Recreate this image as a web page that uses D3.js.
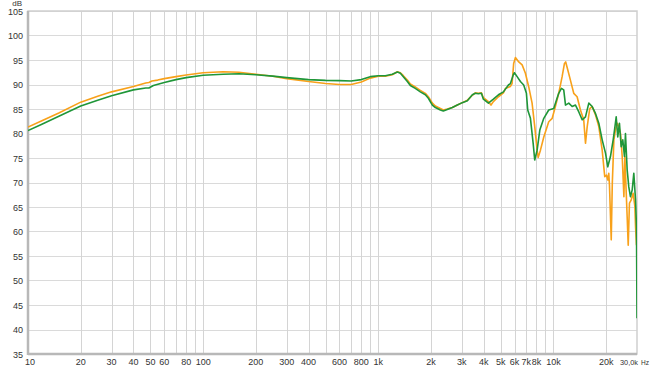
<!DOCTYPE html>
<html>
<head>
<meta charset="utf-8">
<script src="https://cdn.jsdelivr.net/npm/d3@7"></script>
<style>
  html, body { margin: 0; padding: 0; background: #fff; }
  svg { display: block; }
  text { font-family: "Liberation Sans", Arial, sans-serif; font-size: 9px; fill: #333; }
</style>
</head>
<body>
<svg id="chart" width="650" height="368"></svg>
<script>
// ---- data ----
const yTicks = [35, 40, 45, 50, 55, 60, 65, 70, 75, 80, 85, 90, 95, 100, 105];
const xTickValues = [10, 20, 30, 40, 50, 60, 80, 100, 200, 300, 400, 600, 800, 1000, 2000, 3000, 4000, 5000, 6000, 7000, 8000, 10000, 20000];
const xTickLabels = ["10", "20", "30", "40", "50", "60", "80", "100", "200", "300", "400", "600", "800", "1k", "2k", "3k", "4k", "5k", "6k", "7k", "8k", "10k", "20k"];
const xEndLabel = "30,0k";
const xUnit = "Hz";
const yUnit = "dB";
const xGridValues = [20, 30, 40, 50, 60, 70, 80, 90, 100, 200, 300, 400, 500, 600, 700, 800, 900, 1000,
  2000, 3000, 4000, 5000, 6000, 7000, 8000, 9000, 10000, 20000];

const freqOrange = [10, 12, 15, 20, 25, 30, 40, 47, 49, 51, 55, 60, 70, 80, 100, 130, 160, 200, 250, 300, 400, 500, 600, 700, 800, 900,
  1000, 1096, 1202, 1285, 1337, 1390, 1465, 1524, 1626, 1738, 1857, 1931, 2036, 2118, 2262, 2351, 2477, 2647, 2827, 3019, 3226,
  3444, 3581, 3724, 3880, 3981, 4254, 4400, 4540, 4853, 5180, 5321, 5680, 5805, 5929, 6067, 6339, 6627, 6918, 7228, 7553, 7820,
  8070, 8180, 8430, 8810, 9400, 9840, 10260, 10720, 11210, 11560, 11750, 12070, 12500, 13060, 13650, 14260, 14890, 15240, 15590,
  16120, 16640, 17380, 18160, 18980, 19630, 20090, 20430, 20700, 20890, 21380, 21680, 22140, 22610, 23120, 23620, 24150, 24700,
  25250, 25580, 26000, 26360, 26730, 27170, 27770, 28510, 29170, 29430, 29800];
const dbOrange = [81.3, 82.6, 84.2, 86.4, 87.6, 88.5, 89.6, 90.3, 90.4, 90.7, 90.9, 91.2, 91.6, 91.95, 92.4, 92.6, 92.5, 92.1, 91.7, 91.2, 90.6, 90.2, 90.0, 90.0, 90.5, 91.3,
  91.7, 91.7, 92.0, 92.6, 92.4, 91.8, 90.9, 90.1, 89.5, 88.8, 88.2, 87.5, 86.2, 85.6, 85.1, 84.8, 85.0, 85.3, 85.8, 86.3, 86.8,
  87.8, 88.3, 88.2, 88.3, 87.3, 86.5, 85.8, 86.5, 87.5, 88.3, 89.2, 89.6, 90.2, 94.3, 95.5, 94.6, 94.0, 92.3, 89.5, 86.2, 81.4,
  76.6, 75.1, 76.6, 79.3, 82.4, 83.1, 85.5, 88.2, 91.6, 94.3, 94.6, 93.0, 90.9, 88.2, 87.5, 84.8, 82.8, 78.0, 81.4,
  85.1, 85.5, 83.8, 81.4, 76.6, 71.2, 71.5, 70.5, 71.9, 69.5, 58.3, 69.8, 78.7, 80.7, 82.1, 81.4, 80.0, 75.3,
  67.1, 75.3, 68.5, 63.0, 57.2, 65.8, 66.4, 67.8, 65.1, 61.0, 57.2];

const freqGreen = [10, 12, 15, 20, 25, 30, 40, 47, 49, 52, 60, 70, 80, 100, 130, 160, 200, 250, 300, 400, 500, 600, 700, 800, 900,
  1000, 1096, 1202, 1285, 1337, 1390, 1465, 1524, 1626, 1738, 1857, 1931, 2036, 2118, 2262, 2351, 2477, 2647, 2827, 3019, 3226,
  3444, 3581, 3724, 3880, 3981, 4254, 4540, 4853, 5180, 5534, 5680, 5888, 5987, 6205, 6478, 6764, 7010, 7132, 7390, 7660, 7820,
  8070, 8360, 8810, 9400, 10040, 10400, 10720, 11110, 11450, 11720, 12230, 12790, 13360, 13960, 14590, 15240, 15920, 16640,
  17380, 18160, 18980, 19830, 20430, 21160, 21930, 22320, 22820, 23300, 23820, 24360, 24890, 25440, 25780, 26360, 26930,
  27520, 28170, 28770, 29430, 29800, 30000];
const dbGreen = [80.6, 81.9, 83.5, 85.6, 86.8, 87.7, 88.9, 89.3, 89.3, 89.8, 90.4, 91.0, 91.4, 91.9, 92.1, 92.2, 92.0, 91.7, 91.4, 91.0, 90.85, 90.8, 90.7, 91.0, 91.6,
  91.8, 91.8, 92.1, 92.55, 92.3, 91.6, 90.6, 89.8, 89.2, 88.5, 87.9, 87.2, 85.8, 85.3, 84.8, 84.6, 84.9, 85.3, 85.8, 86.3, 86.7,
  87.9, 88.2, 88.1, 88.2, 87.0, 86.2, 87.0, 87.9, 88.5, 89.9, 90.2, 91.9, 92.4, 91.6, 90.6, 89.9, 88.2, 84.8, 83.1, 78.0, 74.6,
  76.6, 80.7, 83.1, 84.8, 85.1, 86.8, 88.2, 89.2, 88.9, 85.8, 86.2, 85.5, 85.8, 84.4, 82.8, 83.4, 86.2, 85.5,
  84.1, 82.1, 78.7, 76.0, 73.2, 75.3, 78.7, 80.7, 83.4, 79.3, 82.1, 77.3, 78.7, 75.3, 80.0, 72.6, 69.1,
  67.1, 68.5, 71.9, 66.4, 61.0, 42.3];

// ---- layout ----
const W = 650, H = 368;
const m = { left: 28, right: 13, top: 11, bottom: 14 };
const svg = d3.select("#chart");
const x = d3.scaleLog().domain([10, 30000]).range([m.left, W - m.right]);
const y = d3.scaleLinear().domain([35, 105]).range([H - m.bottom, m.top]);

// grid
const g = svg.append("g");
g.selectAll("line.hg").data(yTicks).enter().append("line")
  .attr("x1", m.left).attr("x2", W - m.right)
  .attr("y1", d => Math.round(y(d)) + 0.5).attr("y2", d => Math.round(y(d)) + 0.5)
  .attr("stroke", "#dadada").attr("stroke-width", 1);
g.selectAll("line.vg").data(xGridValues).enter().append("line")
  .attr("x1", d => Math.round(x(d)) + 0.5).attr("x2", d => Math.round(x(d)) + 0.5)
  .attr("y1", m.top).attr("y2", H - m.bottom)
  .attr("stroke", "#d4d4d4").attr("stroke-width", 1);

// frame
svg.append("rect").attr("x", m.left).attr("y", m.top)
  .attr("width", W - m.left - m.right).attr("height", H - m.top - m.bottom)
  .attr("fill", "none").attr("stroke", "#cfcfcf").attr("stroke-width", 1.5);
svg.append("line").attr("x1", m.left).attr("x2", m.left).attr("y1", m.top).attr("y2", H - m.bottom + 1)
  .attr("stroke", "#b8b8b8").attr("stroke-width", 2.5);
svg.append("line").attr("x1", m.left).attr("x2", W - m.right).attr("y1", H - m.bottom).attr("y2", H - m.bottom)
  .attr("stroke", "#b8b8b8").attr("stroke-width", 2.5);

// y labels
svg.selectAll("text.yl").data(yTicks).enter().append("text")
  .attr("x", m.left - 5).attr("y", d => y(d) + 3.5)
  .attr("text-anchor", "end").text(d => d);
svg.append("text").attr("x", 22).attr("y", 5.5).attr("text-anchor", "end")
  .style("font-size", "8px").text(yUnit);

// x labels
svg.selectAll("text.xl").data(xTickValues).enter().append("text")
  .attr("x", (d, i) => i === 0 ? x(d) + 2 : x(d))
  .attr("y", H - 3)
  .attr("text-anchor", "middle")
  .text((d, i) => xTickLabels[i]);
svg.append("text").attr("x", 620).attr("y", H - 3).style("font-size", "8px")
  .attr("textLength", 18).attr("lengthAdjust", "spacingAndGlyphs").text(xEndLabel);
svg.append("text").attr("x", 641).attr("y", H - 3).style("font-size", "8px")
  .attr("textLength", 8).attr("lengthAdjust", "spacingAndGlyphs").text(xUnit);

// lines
svg.append("clipPath").attr("id", "clip").append("rect")
  .attr("x", m.left).attr("y", m.top).attr("width", W - m.left - m.right).attr("height", H - m.top - m.bottom);
const line = d3.line().x(d => x(d[0])).y(d => y(d[1]));
const orange = freqOrange.map((f, i) => [f, dbOrange[i]]);
const green = freqGreen.map((f, i) => [f, dbGreen[i]]);
svg.append("path").datum(orange).attr("d", line).attr("clip-path", "url(#clip)")
  .attr("fill", "none").attr("stroke", "#f8a11a").attr("stroke-width", 1.6).attr("stroke-linejoin", "round");
svg.append("path").datum(green).attr("d", line).attr("clip-path", "url(#clip)")
  .attr("fill", "none").attr("stroke", "#1f9638").attr("stroke-width", 1.6).attr("stroke-linejoin", "round");
</script>
</body>
</html>
